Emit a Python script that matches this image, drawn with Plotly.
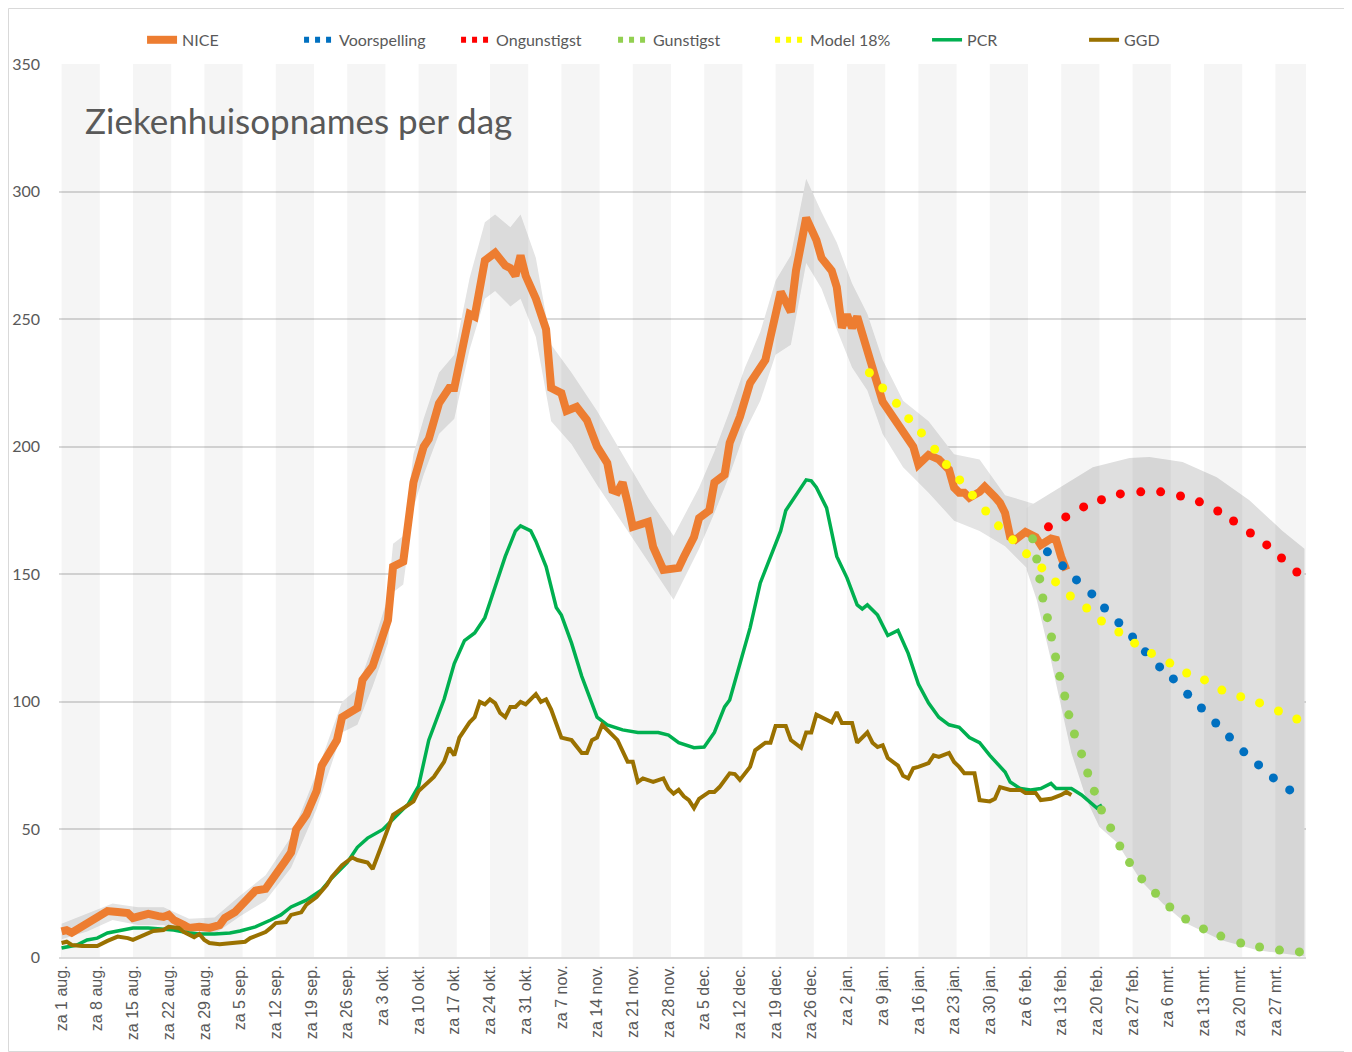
import pandas as pd
import plotly.graph_objects as go

start = pd.Timestamp("2020-08-01")

# NICE ziekenhuisopnames: dag na 1 aug. en waarde
nice_dag = [0, 1, 2, 4, 5, 7, 9, 11, 13, 14, 15, 17, 19, 20, 21, 22, 24, 25, 27, 29,
            31, 32, 34, 35, 37, 38, 40, 41, 43, 44, 45, 46, 48, 50, 51, 52, 54, 55, 57, 58,
            59, 61, 64, 65, 67, 69, 71, 72, 74, 76, 77, 80, 81, 83, 85, 87, 88, 89, 90, 91,
            93, 95, 96, 98, 99, 101, 103, 105, 107, 108, 109, 110, 111, 112, 115, 116, 118, 120, 121, 122,
            124, 125, 127, 128, 130, 131, 133, 135, 137, 138, 139, 141, 143, 144, 146, 148, 149, 151, 152, 153,
            154, 155, 156, 158, 160, 161, 163, 164, 166, 167, 168, 170, 172, 174, 175, 176, 177, 178, 180, 181,
            183, 184, 185, 186, 187, 189, 191, 192, 194, 195, 196, 197]
nice = [10, 10.5, 9.5, 12, 13.3, 15.7, 18, 17.6, 17.2, 15.3, 15.7, 16.9, 16, 15.7, 16.5, 14.5, 12.5, 11.4, 11.8, 11.4,
        12.5, 15.3, 17.6, 19.6, 23, 26, 26.7, 29.4, 34, 38, 41, 50, 55.7, 65, 75, 78, 85, 94, 97, 97.6,
        108.6, 114, 132, 153, 155, 186, 200, 203, 217, 223, 223, 252, 251, 273, 276, 271, 270, 267, 275, 267,
        258, 246, 223, 221, 214, 215.6, 210.5, 200, 193.6, 183, 182.3, 186, 178, 168.6, 170.5, 160.7, 151.7, 152.5, 152.5, 156.8,
        164.6, 172, 175, 186, 189, 201.5, 211.7, 225, 231, 234, 243, 260.7, 252.8, 269, 289.7, 281, 274, 269, 262.6, 246.6,
        251.7, 246.6, 251, 236.8, 222, 217.6, 211.7, 209, 204, 200, 193, 196.8, 195, 191, 184, 182, 182, 180, 182.3, 184.3,
        180.3, 178, 174, 164.6, 163.5, 166.6, 164.6, 161.5, 164, 163.5, 156.8, 151.7]

# onzekerheidsband rond NICE
band_dag = [0, 5, 10, 15, 20, 25, 30, 35, 40, 45, 50, 55, 58, 61, 64, 65, 67, 69, 71, 74,
            77, 80, 83, 85, 88, 90, 93, 96, 100, 105, 110, 115, 120, 125, 128, 131, 134, 137, 140, 143,
            146, 149, 152, 155, 158, 161, 165, 170, 175, 180, 185, 190, 195, 197]
band_hoog = [13, 17, 21, 19.5, 19.5, 15, 15.5, 24, 32, 47, 72, 100, 105, 122, 141, 162, 165, 197, 211, 229,
             236, 266, 288, 291, 286, 291, 274, 240, 229, 214, 197, 180, 165, 184, 198, 214, 231, 245, 265, 275,
             305, 292, 280, 264, 252, 234, 218, 210, 197, 195, 181, 178, 175, 164]
band_laag = [7, 10, 14.5, 12.5, 12.5, 8.5, 9, 16, 22, 35, 58, 88, 91, 106, 123, 143, 146, 176, 189, 205,
             211, 238, 258, 261, 255, 258, 243, 210, 201, 185, 170, 155, 140, 160, 174, 189, 206, 218, 236, 240,
             272, 262, 246, 231, 222, 205, 192, 182, 171, 167, 161, 151, 150, 140]

# PCR
pcr_dag = [0, 1, 3, 5, 7, 9, 11, 14, 17, 20, 22, 25, 27, 30, 33, 35, 38, 41, 43, 45,
           48, 51, 53, 56, 58, 60, 63, 68, 70, 72, 75, 77, 79, 81, 83, 85, 87, 89, 90, 92,
           93, 95, 97, 98, 100, 102, 104, 105, 107, 110, 113, 117, 119, 121, 124, 126, 128, 130, 131, 133,
           135, 137, 139, 141, 142, 144, 146, 147, 148, 150, 151, 152, 154, 155, 156, 157, 158, 160, 162, 164,
           166, 168, 170, 172, 174, 176, 178, 180, 182, 185, 186, 188, 190, 192, 194, 195, 198, 200, 203, 204]
pcr = [3.5, 4, 4.7, 6.7, 7.4, 9.4, 10.2, 11.4, 11.4, 11, 10.6, 9.4, 9, 9, 9.4, 10.2, 11.8, 14.5, 16.5, 19.6,
       22.3, 26.3, 31, 37, 43, 46.6, 50, 60, 67, 85, 101, 115, 124, 127, 133, 145, 157, 167, 169, 167,
       163, 153, 137, 134, 123, 110, 99.5, 94, 91, 89, 88, 88, 87, 84, 82, 82.3, 88, 98, 100.7, 115,
       129, 146.6, 157, 167, 175, 181, 187, 186.6, 184, 176, 166, 157, 148.6, 143, 138, 136.4, 138, 134, 126, 128,
       119, 107, 99.5, 94, 91, 90, 86, 84, 79, 72.5, 68.6, 66, 65.5, 66, 68, 66, 66, 63.5, 58.4, 59.6]

# GGD
ggd_dag = [0, 1, 2, 4, 7, 8, 9, 11, 13, 14, 16, 18, 20, 21, 23, 24, 26, 27, 28, 29,
           31, 34, 36, 37, 38, 40, 41, 42, 44, 45, 47, 48, 50, 52, 53, 55, 57, 58, 60, 61,
           63, 65, 68, 69, 70, 73, 75, 76, 77, 78, 80, 81, 82, 83, 84, 85, 86, 87, 88, 89,
           90, 91, 93, 94, 95, 96, 98, 100, 102, 103, 104, 105, 106, 109, 111, 112, 113, 114, 116, 118,
           119, 120, 121, 122, 123, 124, 125, 127, 128, 129, 131, 132, 133, 135, 136, 138, 139, 140, 142, 143,
           145, 146, 147, 148, 151, 152, 153, 155, 156, 157, 158, 159, 160, 161, 162, 164, 165, 166, 167, 168,
           170, 171, 172, 174, 175, 176, 177, 179, 180, 182, 183, 184, 186, 188, 189, 191, 192, 194, 196, 197, 198]
ggd = [5.5, 6, 4.7, 4.3, 4.3, 5.5, 6.3, 8, 7.4, 6.7, 8.6, 10.2, 10.6, 11.8, 11.4, 9.8, 7.8, 9, 6.7, 5.5,
       5, 5.5, 6, 7.4, 8.2, 9.8, 11.4, 13.3, 13.7, 16.5, 17.5, 20.5, 23.5, 28.2, 31.4, 36, 39, 38, 37, 34.5,
       45, 55.7, 59.6, 61, 65, 70.6, 76.5, 82, 79, 86, 92, 94, 100, 99, 101, 99.5, 95.6, 94, 98, 98,
       100, 99, 103, 100, 101, 97, 86, 85, 80, 80, 85, 86, 91, 85, 76.5, 76.5, 68.6, 70, 68.6, 70,
       66, 64, 65.5, 63, 61.5, 58.4, 62, 64.7, 64.7, 66.6, 72, 71.7, 69.4, 74.5, 81, 84, 84, 90.5, 90.5, 85,
       82, 88, 88, 95, 92, 96, 91.7, 91.7, 84, 86, 88, 84, 82.3, 83, 78, 75, 71, 70, 74, 74.5,
       76, 79, 78.4, 80, 76.4, 74.5, 72, 72, 61.5, 61, 62, 66.6, 65.5, 65.5, 64.3, 64.3, 61.5, 62, 63.5, 64.7, 63.5]

# prognoses (stippellijnen)
voorsp_dag = [193.3, 196.3, 199.0, 202.0, 204.5, 207.3, 210.0, 212.5, 215.3, 218.0,
              220.8, 223.5, 226.3, 229.0, 231.8, 234.7, 237.6, 240.8]
voorsp = [158.8, 153.3, 147.8, 142.3, 136.8, 131, 125.4, 119.6, 113.7, 109,
          103, 97.6, 91.7, 86.2, 80.4, 75.3, 70.2, 65.5]

ongunst_dag = [193.5, 196.9, 200.4, 203.9, 207.6, 211.6, 215.5, 219.4, 223.1, 226.7,
               229.8, 233.1, 236.3, 239.2, 242.2]
ongunst = [168.6, 172.5, 176.4, 179.2, 181.5, 182.3, 182.3, 180.7, 178.4, 174.8,
           170.9, 166.2, 161.5, 156.4, 150.9]

gunst_dag = [190.4, 191.2, 191.8, 192.4, 193.3, 194.1, 194.9, 195.7, 196.7, 197.5,
             198.6, 200.0, 201.2, 202.5, 203.9, 205.7, 207.5, 209.4, 211.8, 214.5,
             217.3, 220.4, 223.9, 227.3, 231.2, 234.9, 238.8, 242.7]
gunst = [163.9, 156, 148.2, 140.7, 133, 125.4, 117.6, 110, 102.3, 94.9,
         87.4, 79.6, 72.1, 65, 57.6, 50.6, 43.5, 37, 30.6, 25,
         19.6, 14.9, 11, 8.2, 5.5, 3.9, 2.7, 2]

model_dag = [158.4, 161.0, 163.7, 166.1, 168.6, 171.2, 173.5, 176.1, 178.6, 181.2,
             183.7, 186.5, 189.2, 192.2, 194.9, 197.8, 201.0, 203.9, 207.3, 210.4,
             213.7, 217.3, 220.6, 224.1, 227.5, 231.2, 234.9, 238.6, 242.2]
model = [229, 223, 217, 211, 205.4, 199, 193, 187, 181, 174.8,
         169, 163.5, 158, 152.5, 147, 141.5, 136.8, 131.7, 127.4, 123,
         119, 115.2, 111.3, 108.6, 104.6, 102, 99.6, 96.4, 93.3]

# grijze prognosewaaier
waaier_boven_dag = [189.2, 195.7, 202.2, 209.4, 213.3, 219.8, 226.5, 232.9, 239.4, 243.7]
waaier_boven = [176, 184, 192, 195.6, 196, 194, 188, 179, 167, 160]
waaier_onder_dag = [189.2, 191.2, 193.7, 195.7, 198, 201, 203.5, 206.9, 211.6, 215.9,
                    220.4, 227.3, 234.3, 243.1, 243.7]
waaier_onder = [152, 140, 119, 100.7, 80, 61.5, 51, 45, 30, 21,
                13.3, 6.7, 2.7, 0.4, 0.3]

maanden = {8: "aug.", 9: "sep.", 10: "okt.", 11: "nov.", 12: "dec.", 1: "jan.", 2: "feb.", 3: "mrt."}


def datum(dagen):
    return [start + pd.Timedelta(days=d) for d in dagen]


zaterdagen = list(pd.date_range(start, "2021-03-27", freq="7D"))
ticktekst = [f"za {d.day} {maanden[d.month]}" for d in zaterdagen]

fig = go.Figure()


def vlak(dagen, waarden, kleur):
    # gevuld vlak tot de x-as, zoals een gestapeld vlakdiagram in Excel
    fig.add_trace(go.Scatter(x=datum(dagen), y=waarden, mode="lines", line=dict(width=0),
                             fill="tozeroy", fillcolor=kleur, showlegend=False, hoverinfo="skip"))


# band rond NICE en prognosewaaier (grijs, met wit eronder)
vlak(band_dag, band_hoog, "#e4e4e4")
vlak(band_dag, band_laag, "white")
vlak(waaier_boven_dag, waaier_boven, "#dfdfdf")
vlak(waaier_onder_dag, waaier_onder, "white")

# om de week een grijze baan
bx, by = [], []
for d in zaterdagen[::2]:
    e = d + pd.Timedelta(days=7.5)
    bx += [d, e, e, d, d, None]
    by += [0, 0, 350, 350, 0, None]
fig.add_trace(go.Scatter(x=bx, y=by, mode="lines", line=dict(width=0), fill="toself",
                         fillcolor="rgba(0,0,0,0.04)", showlegend=False, hoverinfo="skip"))

fig.add_trace(go.Scatter(x=datum(nice_dag), y=nice, name="NICE", mode="lines",
                         line=dict(color="#ED7D31", width=8), legendrank=1))
fig.add_trace(go.Scatter(x=datum(pcr_dag), y=pcr, name="PCR", mode="lines",
                         line=dict(color="#00B050", width=3.5), legendrank=6))
fig.add_trace(go.Scatter(x=datum(ggd_dag), y=ggd, name="GGD", mode="lines",
                         line=dict(color="#9A7100", width=4), legendrank=7))

stippen = [
    ("Voorspelling", voorsp_dag, voorsp, "#0070C0", 2),
    ("Ongunstigst", ongunst_dag, ongunst, "#FF0000", 3),
    ("Gunstigst", gunst_dag, gunst, "#92D050", 4),
    ("Model 18%", model_dag, model, "#FFFF00", 5),
]
for naam, dagen, waarden, kleur, rang in stippen:
    fig.add_trace(go.Scatter(x=datum(dagen), y=waarden, mode="markers", showlegend=False,
                             marker=dict(color=kleur, size=9, line=dict(width=0))))
    # legenda-item als stippellijn
    fig.add_trace(go.Scatter(x=[None], y=[None], name=naam, mode="lines", legendrank=rang,
                             line=dict(color=kleur, width=6, dash="5px,6px")))

fig.add_annotation(text="Ziekenhuisopnames per dag", xref="paper", yref="paper",
                   x=0.0192, y=0.937, xanchor="left", yanchor="middle", showarrow=False,
                   font=dict(family="Lato", size=35, color="#595959"))

# de pagina heeft 8px marge, dus figuur 1344x1044
W, H = 1344, 1044
L, R, T, B = 51, 46, 56, 95
pw, ph = W - L - R, H - T - B

# rand om de hele grafiek
fig.add_shape(type="rect", xref="paper", yref="paper",
              x0=(0.5 - L) / pw, x1=(W - 0.5 - L) / pw, y0=-(B - 0.5) / ph, y1=(ph + T - 0.5) / ph,
              line=dict(color="#d9d9d9", width=1))

fig.update_layout(
    width=W, height=H,
    margin=dict(l=L, r=R, t=T, b=B, autoexpand=False),
    paper_bgcolor="white", plot_bgcolor="white",
    font=dict(family="Lato", size=16, color="#595959"),
    hovermode=False,
    legend=dict(orientation="h", x=0.0666, xanchor="left", y=1.027, yanchor="middle",
                traceorder="normal", entrywidth=112, entrywidthmode="pixels",
                font=dict(family="Lato", size=16, color="#595959"), bgcolor="rgba(0,0,0,0)"),
    xaxis=dict(range=[start - pd.Timedelta(hours=12), start + pd.Timedelta(days=244)],
               tickvals=zaterdagen, ticktext=ticktekst, tickangle=-90, showgrid=False,
               showline=True, linecolor="#d9d9d9", linewidth=2, ticks="",
               tickfont=dict(family="Liberation Sans", size=16, color="#595959")),
    yaxis=dict(range=[0, 350], dtick=50, gridcolor="#d9d9d9", gridwidth=1.5, zeroline=False,
               showline=False, ticks="", ticklabelstandoff=18,
               tickfont=dict(family="Lato", size=16, color="#595959")),
)

fig.write_html("out.html")
